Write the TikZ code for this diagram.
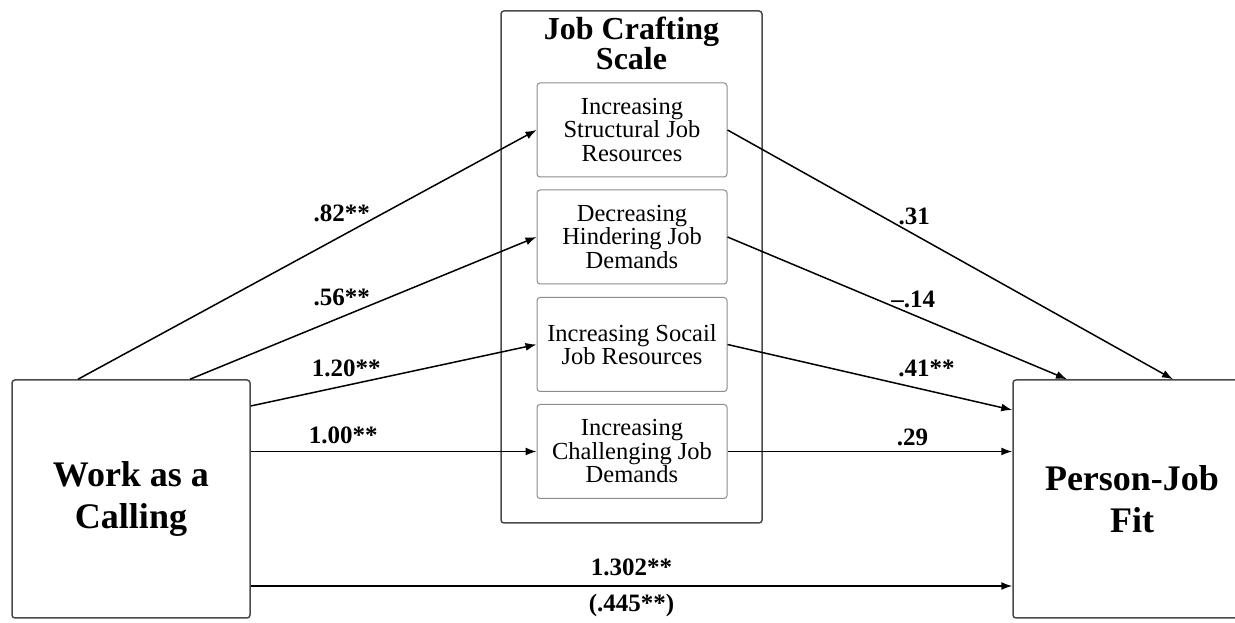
\documentclass[tikz,border=0pt]{standalone}
\usepackage{fontspec}
\setmainfont{Liberation Serif}
\usepackage{tikz}
\usetikzlibrary{arrows.meta}

\definecolor{boxgray}{HTML}{4A4A4A}
\definecolor{innergray}{HTML}{8C8C8C}

\begin{document}
\begin{tikzpicture}[x=1pt,y=1pt,
  var/.style={draw=boxgray,line width=1.5pt,rounded corners=3pt,minimum width=238pt,minimum height=238pt,
    align=center,font=\fontsize{36}{42}\selectfont\bfseries},
  dim/.style={draw=innergray,line width=1pt,rounded corners=3pt,minimum width=190pt,minimum height=94pt,
    align=center,font=\fontsize{24.5}{23.5}\selectfont},
  coef/.style={font=\fontsize{25}{25}\selectfont\bfseries,inner sep=0pt},
  link/.style={-{Latex[length=11pt,width=8pt]},line width=1.5pt}]
  \useasboundingbox (0,0) rectangle (1235,623);

  \node[var] (calling) at (131,124) {Work as a\\Calling};
  \node[var] (fit) at (1132,124) {Person-Job\\Fit};

  \node[draw=boxgray,line width=1.5pt,rounded corners=3pt,minimum width=261pt,minimum height=512pt] (jcs) at (631.5,356) {};
  \node[anchor=north,align=center,font=\fontsize{32}{29}\selectfont\bfseries] (jcstitle) at ([yshift=-3pt]jcs.north) {Job Crafting\\Scale};

  \node[dim] (sjr) at (632,493) {Increasing\\Structural Job\\Resources};
  \node[dim] (hjd) at (632,386) {Decreasing\\Hindering Job\\Demands};
  \node[dim] (sor) at (632,278.5) {Increasing Socail\\Job Resources};
  \node[dim] (cjd) at (632,171.5) {Increasing\\Challenging Job\\Demands};

  \draw[link] ([xshift=-53pt]calling.north) -- (sjr.west) node[coef,pos=0.575,yshift=23pt] (a1) {.82**};
  \draw[link] ([xshift=59pt]calling.north) -- (hjd.west) node[coef,pos=0.438,yshift=20pt] (a2) {.56**};
  \draw[link] ([yshift=93pt]calling.east) -- (sor.west) node[coef,pos=0.334,yshift=17pt] (a3) {1.20**};
  \draw[link] (calling.east |- cjd.west) -- (cjd.west) node[coef,pos=0.324,yshift=16pt] (a4) {1.00**};

  \draw[link] (sjr.east) -- ([xshift=41pt]fit.north) node[coef,pos=0.419,yshift=18pt] (b1) {.31};
  \draw[link] (hjd.east) -- ([xshift=-65pt]fit.north) node[coef,pos=0.547,yshift=15pt] (b2) {--.14};
  \draw[link] (sor.east) -- ([yshift=89pt]fit.west) node[coef,pos=0.699,yshift=22pt] (b3) {.41**};
  \draw[link] (cjd.east) -- (fit.west |- cjd.east) node[coef,pos=0.65,yshift=14pt] (b4) {.29};

  \draw[link] ([yshift=-87pt]calling.east) -- ([yshift=-87pt]fit.west)
    node[coef,pos=0.5,yshift=19pt] (c) {1.302**}
    node[coef,pos=0.5,yshift=-19pt] (cp) {(.445**)};
\end{tikzpicture}
\end{document}
